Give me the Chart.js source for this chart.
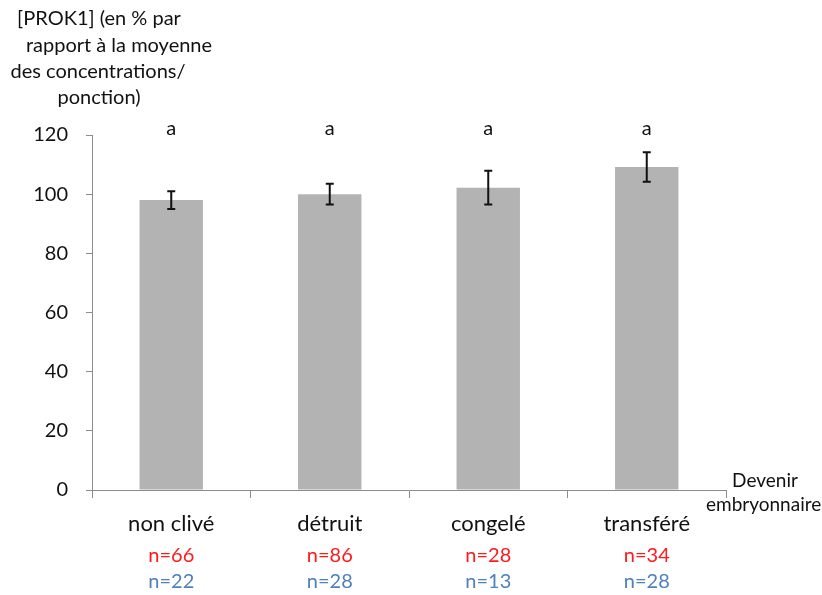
<!DOCTYPE html>
<html>
<head>
<meta charset="utf-8">
<script src="https://cdn.jsdelivr.net/npm/chart.js@4"></script>
<style>
  body { margin: 0; background: #fff; }
  #wrap { width: 822px; height: 595px; }
</style>
</head>
<body>
<div id="wrap"><canvas id="chart"></canvas></div>
<script>
// values
const categories = ['non clivé', 'détruit', 'congelé', 'transféré'];
const means = [98, 100, 102.2, 109.2];
const errors = [3, 3.5, 5.7, 5];
const letters = ['a', 'a', 'a', 'a'];
const nRed = ['n=66', 'n=86', 'n=28', 'n=34'];
const nBlue = ['n=22', 'n=28', 'n=13', 'n=28'];
const yTicks = [0, 20, 40, 60, 80, 100, 120];

const FONT = 'Lato, "Open Sans", sans-serif';

// error bars, letters and n= counts, placed through the scales
const extras = {
  id: 'extras',
  afterDatasetsDraw(chart) {
    const ctx = chart.ctx;
    const x = chart.scales.x, y = chart.scales.y;
    ctx.save();
    ctx.strokeStyle = '#111';
    ctx.lineWidth = 2;
    means.forEach((m, i) => {
      const px = x.getPixelForValue(i);
      const hi = y.getPixelForValue(m + errors[i]);
      const lo = y.getPixelForValue(m - errors[i]);
      ctx.beginPath();
      ctx.moveTo(px, hi); ctx.lineTo(px, lo);
      ctx.moveTo(px - 4, hi); ctx.lineTo(px + 4, hi);
      ctx.moveTo(px - 4, lo); ctx.lineTo(px + 4, lo);
      ctx.stroke();
    });
    ctx.textAlign = 'center';
    ctx.textBaseline = 'middle';
    ctx.font = '20px ' + FONT;
    ctx.fillStyle = '#111';
    letters.forEach((l, i) => {
      ctx.fillText(l, x.getPixelForValue(i), chart.chartArea.top - 6);
    });
    ctx.font = '20px ' + FONT;
    categories.forEach((c, i) => {
      const px = x.getPixelForValue(i);
      ctx.fillStyle = '#ff1a1a';
      ctx.fillText(nRed[i], px, 556);
      ctx.fillStyle = '#4f81bd';
      ctx.fillText(nBlue[i], px, 582);
    });
    // axis titles
    ctx.fillStyle = '#111';
    ctx.font = '20px ' + FONT;
    ctx.fillText('[PROK1] (en % par', 99, 19);
    ctx.fillText('rapport à la moyenne', 119, 46);
    ctx.fillText('des concentrations/', 98, 72);
    ctx.fillText('ponction)', 99, 98);
    ctx.font = '19px ' + FONT;
    ctx.fillText('Devenir', 765, 481);
    ctx.textAlign = 'left';
    ctx.fillText('embryonnaire', 706, 505);
    ctx.restore();
  }
};

new Chart(document.getElementById('chart'), {
  type: 'bar',
  data: {
    labels: categories,
    datasets: [{
      data: means,
      backgroundColor: '#b3b3b3',
      borderWidth: 0,
      categoryPercentage: 1,
      barPercentage: 0.4
    }]
  },
  options: {
    responsive: true,
    maintainAspectRatio: false,
    animation: false,
    layout: { padding: { top: 135, right: 96, left: 0, bottom: 0 } },
    plugins: { legend: { display: false }, tooltip: { enabled: false } },
    scales: {
      x: {
        offset: true,
        grid: { offset: true, drawOnChartArea: false, tickLength: 8, color: '#8c8c8c' },
        border: { color: '#8c8c8c', width: 1 },
        ticks: { color: '#111', font: { family: FONT, size: 22 }, padding: 13, maxRotation: 0 },
        afterFit(s) { s.height = 105; }
      },
      y: {
        min: 0,
        max: 120,
        afterBuildTicks(s) { s.ticks = yTicks.map(v => ({ value: v })); },
        grid: { drawOnChartArea: false, tickLength: 6, color: '#8c8c8c' },
        border: { color: '#8c8c8c', width: 1 },
        ticks: { color: '#111', font: { family: FONT, size: 20 }, padding: 18 },
        afterFit(s) { s.width = 92; }
      }
    }
  },
  plugins: [extras]
});
</script>
</body>
</html>
